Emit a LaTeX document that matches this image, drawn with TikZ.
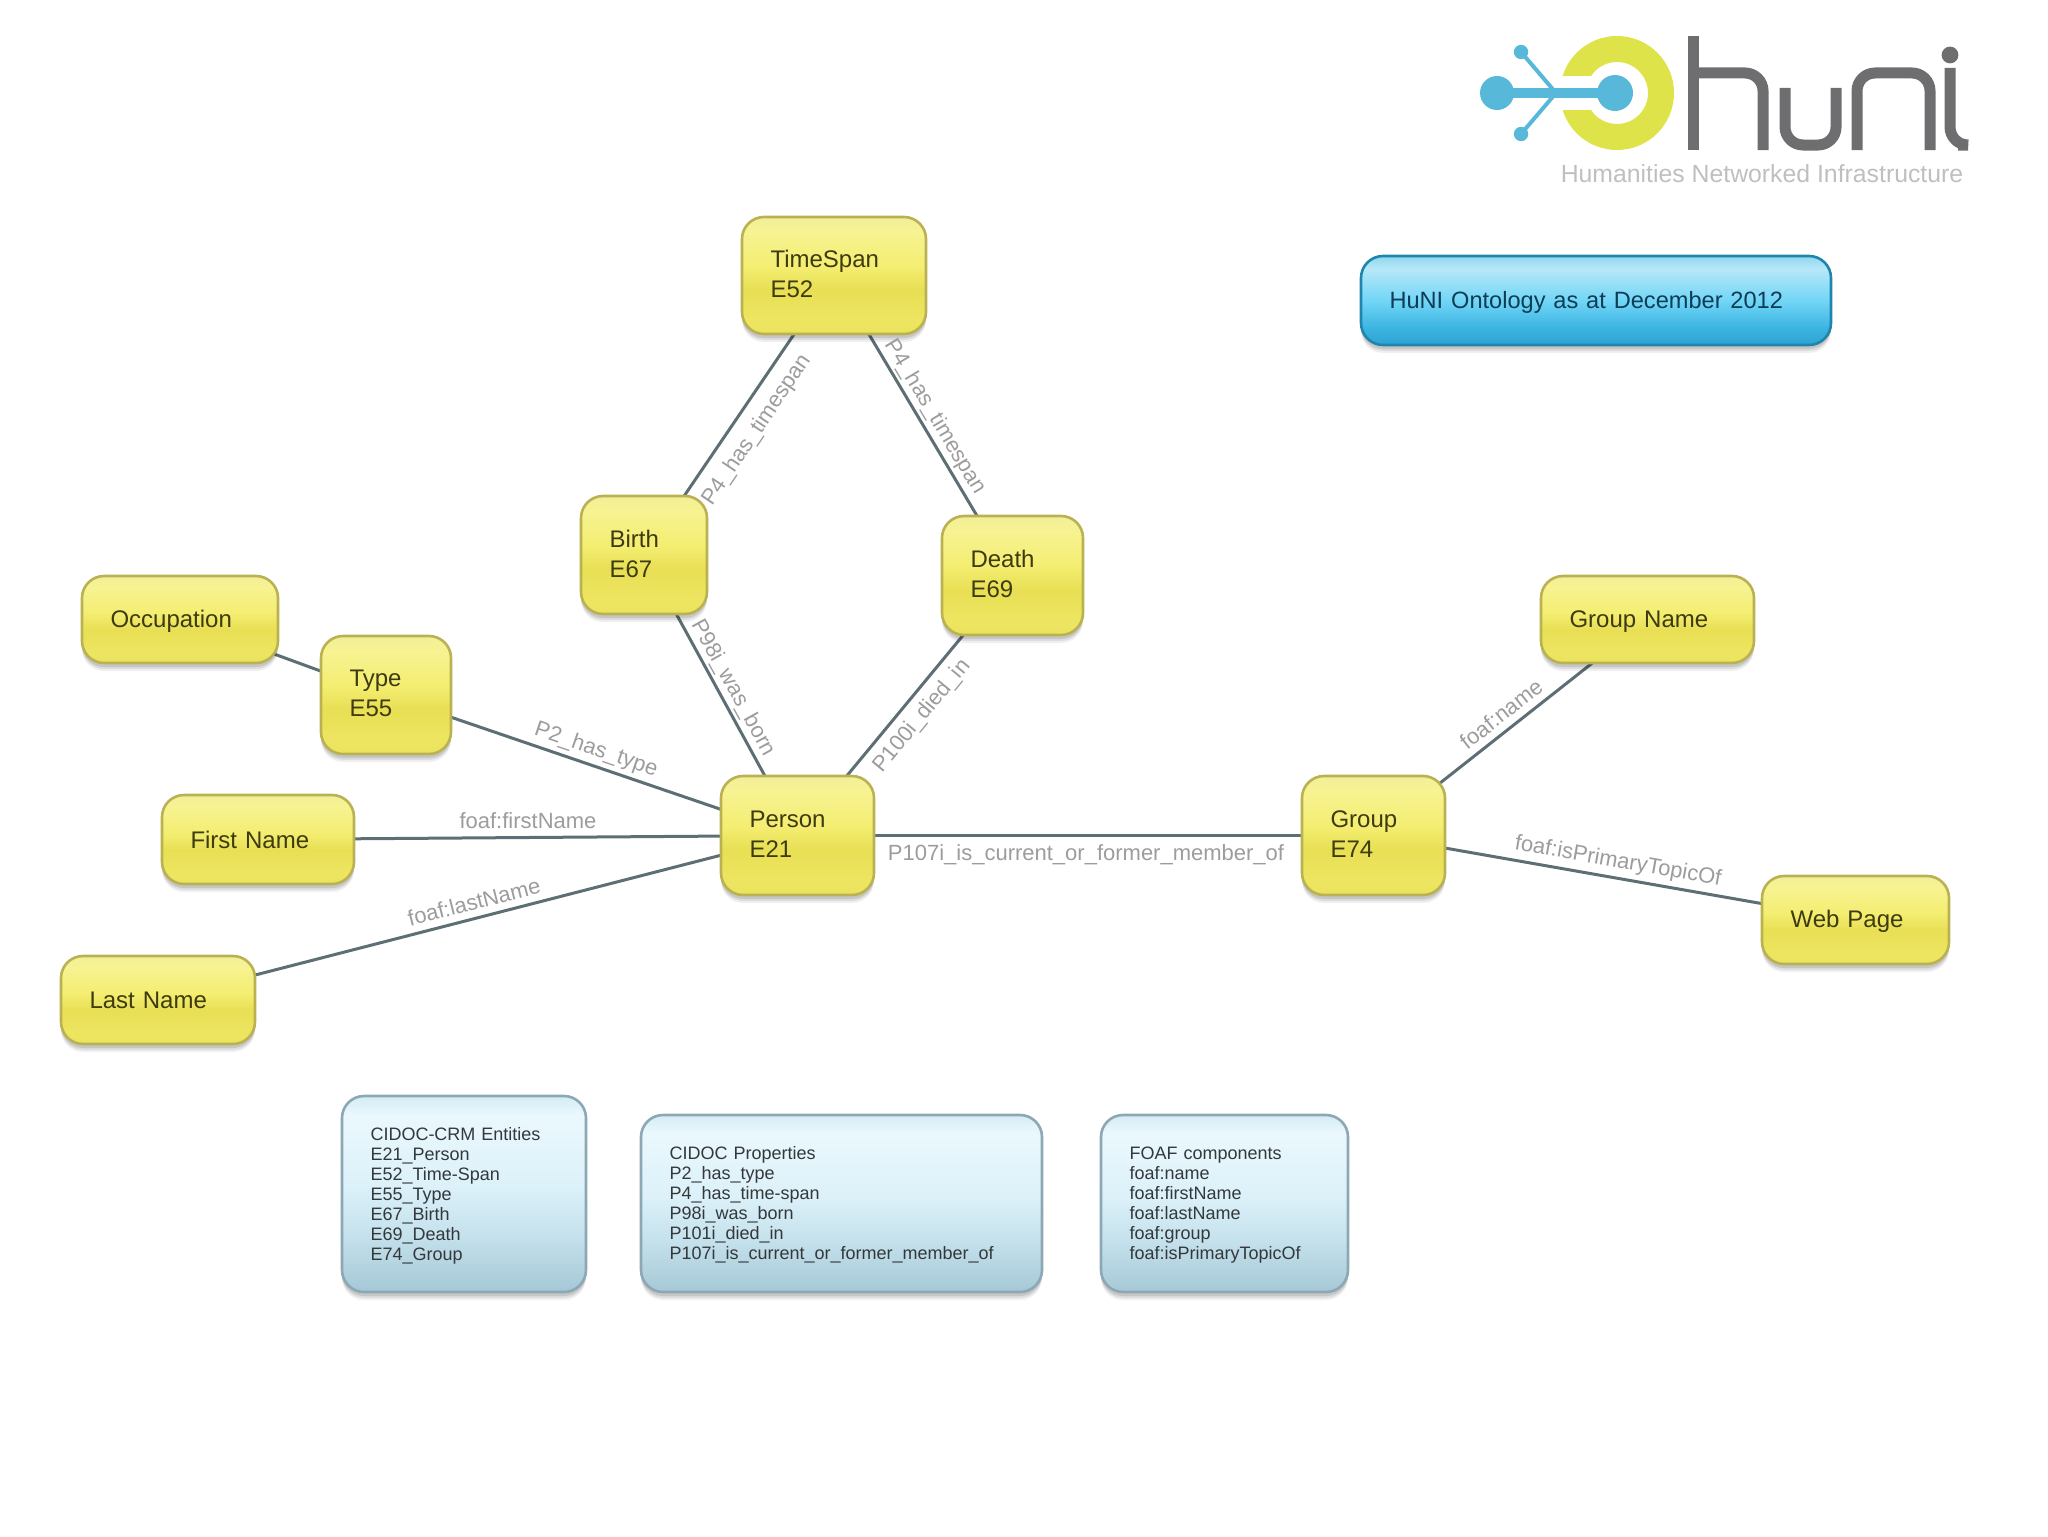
\documentclass[tikz,border=0pt]{standalone}
\usepackage{fontspec}
\setmainfont{Liberation Sans}
\usetikzlibrary{shadows,backgrounds}
\definecolor{yellowline}{rgb}{.73,.70,.32}
\definecolor{yellowtext}{rgb}{.24,.23,.06}
\definecolor{legendline}{rgb}{.55,.66,.71}
\definecolor{legendtext}{rgb}{.2,.22,.23}
\definecolor{titleline}{rgb}{.12,.52,.68}
\definecolor{titletext}{rgb}{.05,.24,.33}
\definecolor{linkgrey}{rgb}{.37,.43,.46}
\definecolor{labelgrey}{rgb}{.61,.61,.62}
\definecolor{logoblue}{rgb}{.34,.72,.85}
\definecolor{logogreen}{rgb}{.87,.89,.29}
\definecolor{logogrey}{rgb}{.43,.43,.44}
\newcommand\toppad[1]{\rule{0pt}{#1pt}}
\newcommand\lowpad{\rule[-1.7pt]{0pt}{1pt}}
\pgfdeclareverticalshading{yellowgloss}{100bp}{rgb(0bp)=(.92,.89,.36); rgb(25bp)=(.92,.89,.36); rgb(31bp)=(.93,.90,.38); rgb(44bp)=(.91,.875,.33); rgb(54bp)=(.957,.933,.447); rgb(69bp)=(.969,.953,.573); rgb(75bp)=(.945,.935,.60); rgb(100bp)=(.945,.935,.60)}
\pgfdeclareverticalshading{legendgloss}{100bp}{rgb(0bp)=(.651,.784,.839); rgb(25bp)=(.651,.784,.839); rgb(40bp)=(.773,.886,.929); rgb(52bp)=(.863,.945,.976); rgb(70bp)=(.918,.973,.992); rgb(75bp)=(.831,.925,.961); rgb(100bp)=(.831,.925,.961)}
\pgfdeclareverticalshading{titlegloss}{100bp}{rgb(0bp)=(.173,.639,.824); rgb(25bp)=(.173,.639,.824); rgb(35bp)=(.239,.71,.886); rgb(50bp)=(.447,.839,.969); rgb(68bp)=(.718,.91,.973); rgb(75bp)=(.557,.839,.933); rgb(100bp)=(.557,.839,.933)}
\tikzset{
  x=0.5pt,y=-0.5pt,
  boxsize/.style 2 args={minimum width=#1pt,minimum height=#2pt,text width=#1pt-28.5pt},
  basebox/.style={rounded corners=11pt,inner xsep=14.25pt,inner ysep=0pt,align=left,line width=1.3pt,
    drop shadow={shadow xshift=0pt,shadow yshift=-4pt,opacity=.06,fill=black},
    drop shadow={shadow xshift=0pt,shadow yshift=-3pt,opacity=.08,fill=black},
    drop shadow={shadow xshift=0pt,shadow yshift=-2pt,opacity=.10,fill=black}},
  ybox/.style={basebox,shade,shading=yellowgloss,draw=yellowline,text=yellowtext,font=\fontsize{12}{15}\selectfont},
  legend/.style={basebox,shade,shading=legendgloss,draw=legendline,text=legendtext,font=\fontsize{9}{10}\selectfont},
  titlebox/.style={basebox,shade,shading=titlegloss,draw=titleline,text=titletext,font=\fontsize{11.8}{15}\selectfont},
  link/.style={draw=linkgrey,line width=1.5pt},
  edgelabel/.style={text=labelgrey,font=\fontsize{11}{12}\selectfont,inner sep=0pt},
  logostroke/.style={draw=logogrey,line width=5.5pt,rounded corners=9pt},
}
\begin{document}
\begin{tikzpicture}
\path[use as bounding box] (0,0) rectangle (2048,1536);

% logo
\begin{scope}[shift={(1617,93)},x=1pt,y=1pt]
  \fill[logogreen] (162.6:28.5) arc[start angle=162.6,end angle=-162.6,radius=28.5]
    -- (-146.7:15.5) arc[start angle=-146.7,end angle=146.7,radius=15.5] -- cycle;
\end{scope}
\coordinate (lhub) at (1556,93);
\coordinate (ldotL) at (1497,93);
\coordinate (ldotR) at (1615,93);
\coordinate (ldotT) at (1521,52);
\coordinate (ldotB) at (1521,134);
\draw[logoblue,line width=5pt] (ldotL) -- (ldotR);
\draw[logoblue,line width=2pt] (ldotT) -- (lhub) -- (ldotB);
\fill[logoblue] (ldotL) circle[radius=8.5pt];
\fill[logoblue] (ldotR) circle[radius=9pt];
\fill[logoblue] (ldotT) circle[radius=3.6pt];
\fill[logoblue] (ldotB) circle[radius=3.6pt];
\draw[draw=logogrey,line width=5.5pt] (1693,36) -- (1693,150);
\draw[logostroke] (1693,73) -- (1763,73) -- (1763,150);
\draw[logostroke] (1785,88) -- (1785,145) -- (1836,145) -- (1836,88);
\draw[logostroke] (1857,150) -- (1857,73) -- (1930,73) -- (1930,150);
\draw[logostroke] (1950,68) -- (1950,145) -- (1958,145);
\fill[logogrey] (1950,55) circle[radius=4.2pt];
\node[text=black!25,font=\fontsize{12.4}{14}\selectfont,inner sep=0pt] (logotext) at (1762,174) {Humanities Networked Infrastructure};

% nodes
\node[titlebox,boxsize={235}{44.5}] (title) at (1596,300.5) {\toppad{10.5}HuNI Ontology as at December 2012};
\node[ybox,boxsize={92}{58.5}] (timespan) at (834,275.5) {TimeSpan\\E52\lowpad};
\node[ybox,boxsize={63}{59}] (birth) at (644,555) {Birth\\E67\lowpad};
\node[ybox,boxsize={70.5}{59.5}] (death) at (1012.5,575.5) {Death\\E69\lowpad};
\node[ybox,boxsize={98}{43.5}] (occupation) at (180,619.5) {\toppad{10.8}Occupation};
\node[ybox,boxsize={65}{59}] (type) at (386,695) {Type\\E55\lowpad};
\node[ybox,boxsize={96}{44.5}] (first) at (258,839.5) {First Name};
\node[ybox,boxsize={97}{44}] (last) at (158,1000) {Last Name};
\node[ybox,boxsize={76.5}{59.5}] (person) at (797.5,835.5) {Person\\E21\lowpad};
\node[ybox,boxsize={71.5}{59.5}] (group) at (1373.5,835.5) {Group\\E74\lowpad};
\node[ybox,boxsize={106.5}{43.5}] (groupname) at (1647.5,619.5) {\toppad{10.8}Group Name};
\node[ybox,boxsize={93.5}{44}] (webpage) at (1855.5,920) {\toppad{10.3}Web Page};
\node[legend,boxsize={122}{98}] (legendA) at (464,1194) {\toppad{8}CIDOC-CRM Entities\\E21\_Person\\E52\_Time-Span\\E55\_Type\\E67\_Birth\\E69\_Death\\E74\_Group};
\node[legend,boxsize={200.5}{88.5}] (legendB) at (841.5,1203.5) {\toppad{8}CIDOC Properties\\P2\_has\_type\\P4\_has\_time-span\\P98i\_was\_born\\P101i\_died\_in\\P107i\_is\_current\_or\_former\_member\_of};
\node[legend,boxsize={123.5}{88.5}] (legendC) at (1224.5,1203.5) {\toppad{8}FOAF components\\foaf:name\\foaf:firstName\\foaf:lastName\\foaf:group\\foaf:isPrimaryTopicOf};

% connectors
\begin{scope}[on background layer]
\draw[link] (timespan.center) -- (birth.center);
\draw[link] (timespan.center) -- (death.center);
\draw[link] (birth.center) -- (person.center);
\draw[link] (death.center) -- (person.center);
\draw[link] (occupation.center) -- (type.center);
\draw[link] (type.center) -- (person.center);
\draw[link] (first.center) -- (person.center);
\draw[link] (last.center) -- (person.center);
\draw[link] (person.center) -- (group.center);
\draw[link] (group.center) -- (groupname.center);
\draw[link] (group.center) -- (webpage.center);
\end{scope}

% edge labels
\node[edgelabel] (lbTB) at (757,430) [rotate=56] {P4\_has\_timespan};
\node[edgelabel] (lbTD) at (935,417) [rotate=-59] {P4\_has\_timespan};
\node[edgelabel] (lbBP) at (733,688) [rotate=-61] {P98i\_was\_born};
\node[edgelabel] (lbDP) at (922,716) [rotate=50.5] {P100i\_died\_in};
\node[edgelabel] (lbTP) at (596,750) [rotate=-19] {P2\_has\_type};
\node[edgelabel] (lbFP) at (528,821) {foaf:firstName};
\node[edgelabel] (lbLP) at (474,902) [rotate=14.3] {foaf:lastName};
\node[edgelabel] (lbPG) at (1086,855) {P107i\_is\_current\_or\_former\_member\_of};
\node[edgelabel] (lbGN) at (1501,714) [rotate=38] {foaf:name};
\node[edgelabel] (lbGW) at (1618,862) [rotate=-10] {foaf:isPrimaryTopicOf};
\end{tikzpicture}
\end{document}
